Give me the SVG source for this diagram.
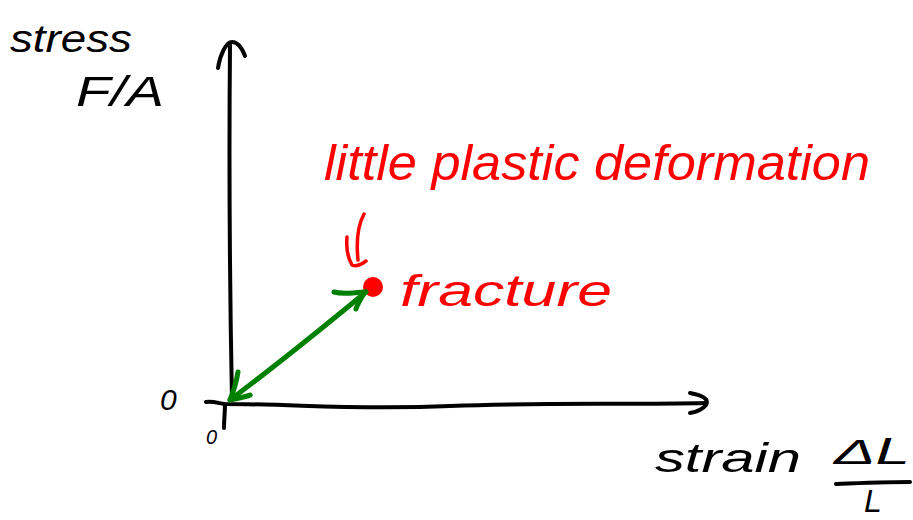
<svg xmlns="http://www.w3.org/2000/svg" width="913" height="520" viewBox="0 0 913 520">
<style>
.ink{fill:none;stroke:#000;stroke-width:4;stroke-linecap:round;stroke-linejoin:round}
.red{fill:none;stroke:#ff0000;stroke-width:3.5;stroke-linecap:round;stroke-linejoin:round}
.grn{fill:none;stroke:#008000;stroke-width:5;stroke-linecap:round;stroke-linejoin:round}
.hb{font-family:"Liberation Sans",Arial,sans-serif;font-style:italic;fill:#000}
.hr{font-family:"Liberation Sans",Arial,sans-serif;font-style:italic;fill:#ff0000}
</style>
<rect width="913" height="520" fill="#fff"/>
<g id="axes">
<path class="ink" d="M232,400 C230,300 229,150 230,45"/>
<path class="ink" d="M218,68 C220,55 226,42 232,42 C238,42 242,48 245,56"/>
<path class="ink" d="M206,402 C212,401 218,403 224,404 C300,404 350,410 450,406 C550,402 620,405 706,403"/>
<path class="ink" d="M690,393 C700,395 710,398 706,405 C702,410 696,412 690,413"/>
<path class="ink" d="M225,404 C225,412 224,420 224,428"/>
</g>
<g id="labels">
<text class="hb" x="10" y="52" font-size="38" textLength="122" lengthAdjust="spacingAndGlyphs">stress</text>
<text class="hb" x="76" y="106" font-size="42" textLength="88" lengthAdjust="spacingAndGlyphs">F/A</text>
<text class="hb" x="160" y="410" font-size="30">0</text>
<text class="hb" x="206" y="444" font-size="20">0</text>
<text class="hb" x="655" y="472" font-size="40" textLength="146" lengthAdjust="spacingAndGlyphs">strain</text>
<text class="hb" x="834" y="464" font-size="36" textLength="76" lengthAdjust="spacingAndGlyphs">ΔL</text>
<path class="ink" d="M836,484 C860,483 885,482 910,482"/>
<text class="hb" x="864" y="512" font-size="32">L</text>
</g>
<g id="fracture">
<circle cx="373" cy="287" r="10" fill="#ff0000"/>
<path class="red" d="M364,214 C358,225 356,240 358,260"/>
<path class="red" d="M347,237 C346,248 348,258 352,265 C356,267 362,264 366,261"/>
<text class="hr" x="400" y="306" font-size="44" textLength="212" lengthAdjust="spacingAndGlyphs">fracture</text>
<text class="hr" x="324" y="180" font-size="50" textLength="546" lengthAdjust="spacingAndGlyphs">little plastic deformation</text>
</g>
<g id="connectors">
<path class="grn" d="M230,400 C270,370 320,330 366,292"/>
<path class="grn" d="M238,372 C236,385 232,395 230,400 C240,398 252,395 250,395"/>
<path class="grn" d="M334,292 C345,295 355,292 365,292 C360,300 357,305 356,309"/>
</g>
</svg>
